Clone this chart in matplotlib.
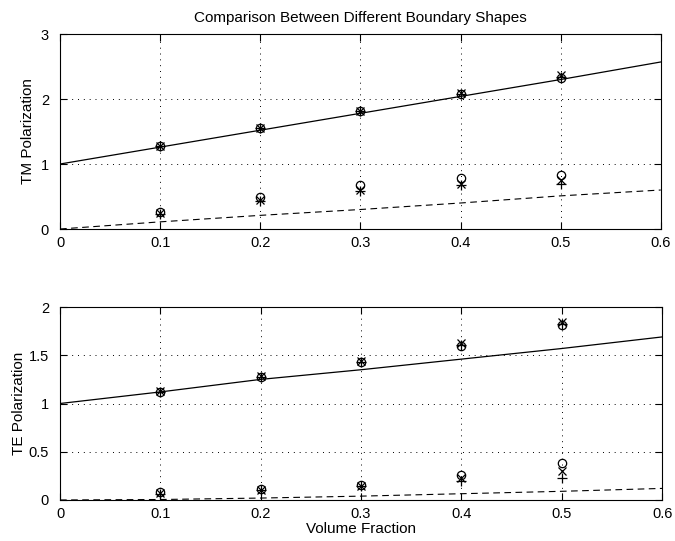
import numpy as np
from matplotlib import pyplot as plt

plt.rcParams['font.family'] = ['Liberation Sans', 'DejaVu Sans']
plt.rcParams['font.size'] = 10

# theory curves
f_line = [0.0, 0.1, 0.2, 0.3, 0.4, 0.5, 0.6]
tm_solid = [1.0, 1.26, 1.52, 1.78, 2.04, 2.30, 2.57]
tm_dash = [0.0, 0.11, 0.21, 0.30, 0.40, 0.51, 0.60]
te_solid = [1.0, 1.12, 1.25, 1.35, 1.46, 1.57, 1.69]
te_dash = [0.0, 0.005, 0.02, 0.04, 0.065, 0.09, 0.12]

# simulated points
f_pts = [0.1, 0.2, 0.3, 0.4, 0.5]
tm_hi_o = [1.27, 1.55, 1.81, 2.08, 2.33]
tm_hi_x = [1.28, 1.56, 1.82, 2.09, 2.37]
tm_hi_p = [1.27, 1.55, 1.81, 2.07, 2.34]
tm_lo_o = [0.26, 0.50, 0.67, 0.79, 0.83]
tm_lo_x = [0.24, 0.45, 0.60, 0.69, 0.76]
tm_lo_p = [0.23, 0.43, 0.58, 0.67, 0.69]
te_hi_o = [1.12, 1.27, 1.43, 1.60, 1.81]
te_hi_x = [1.13, 1.28, 1.44, 1.63, 1.84]
te_hi_p = [1.12, 1.27, 1.43, 1.61, 1.82]
te_lo_o = [0.08, 0.11, 0.16, 0.26, 0.38]
te_lo_x = [0.07, 0.10, 0.15, 0.23, 0.30]
te_lo_p = [0.06, 0.10, 0.14, 0.20, 0.225]

fig = plt.figure(figsize=(6.75, 5.41), dpi=100)
ax1 = fig.add_axes([0.0889, 0.5767, 0.890, 0.3604])
ax2 = fig.add_axes([0.0889, 0.0758, 0.892, 0.3567])

def panel(ax, solid, dash, hi, lo, ymax, yticks, ylab):
    ax.plot(f_line, solid, 'k-', lw=0.9)
    ax.plot(f_line, dash, 'k--', lw=0.8, dashes=(6, 4))
    for grp in (hi, lo):
        ax.plot(f_pts, grp[0], 'ko', mfc='none', ms=6, mew=0.9, ls='none')
        ax.plot(f_pts, grp[1], 'kx', ms=6, mew=0.9, ls='none')
        ax.plot(f_pts, grp[2], 'k+', ms=7, mew=0.9, ls='none')
    ax.set_xlim(0, 0.6)
    ax.set_ylim(0, ymax)
    ax.set_xticks(np.arange(0, 0.61, 0.1))
    ax.set_xticklabels(['0', '0.1', '0.2', '0.3', '0.4', '0.5', '0.6'])
    ax.set_yticks(yticks)
    ax.grid(True, color='k', ls=(0, (1, 5)), lw=0.7)
    ax.tick_params(direction='in', top=True, right=True, length=5, labelsize=10.5)
    ax.tick_params(axis='y', pad=8)
    ax.tick_params(axis='x', pad=5)

panel(ax1, tm_solid, tm_dash, (tm_hi_o, tm_hi_x, tm_hi_p), (tm_lo_o, tm_lo_x, tm_lo_p),
      3, [0, 1, 2, 3], "TM Polarization")
ax1.set_yticklabels(['0', '1', '2', '3'])
ax1.set_ylabel("TM Polarization", fontsize=11, labelpad=4)
panel(ax2, te_solid, te_dash, (te_hi_o, te_hi_x, te_hi_p), (te_lo_o, te_lo_x, te_lo_p),
      2, [0, 0.5, 1, 1.5, 2], "TE Polarization")
ax2.set_yticklabels(['0', '0.5', '1', '1.5', '2'])
ax2.set_ylabel("TE Polarization", fontsize=11, labelpad=2)

ax1.set_title("Comparison Between Different Boundary Shapes", fontsize=11, pad=9)
ax2.set_xlabel("Volume Fraction", fontsize=11, labelpad=1)

fig.savefig("out.png", dpi=100)
